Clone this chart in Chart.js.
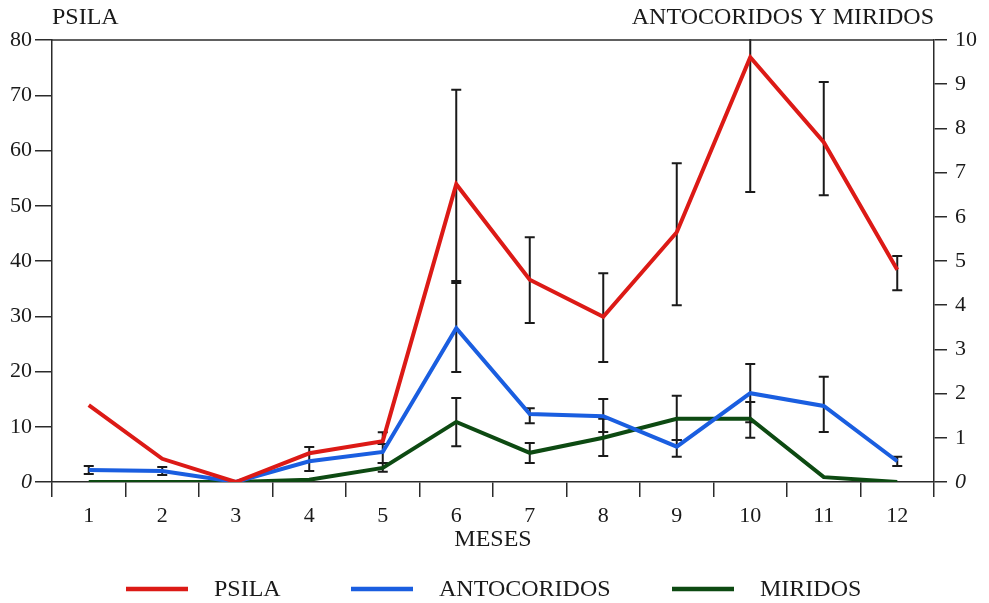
<!DOCTYPE html>
<html>
<head>
<meta charset="utf-8">
<script src="https://cdn.jsdelivr.net/npm/chart.js@4.4.0/dist/chart.umd.min.js"></script>
<style>
  html, body { margin: 0; padding: 0; background: #fff; }
  #wrap { width: 989px; height: 603px; }
</style>
</head>
<body>
<div id="wrap"><canvas id="chart" width="989" height="603"></canvas></div>
<script>
const meses = ['1', '2', '3', '4', '5', '6', '7', '8', '9', '10', '11', '12'];

// PSILA (eje izquierdo)
const psila      = [13.9, 4.2, 0, 5.2, 7.4, 53.9, 36.6, 29.9, 45.2, 76.9, 61.5, 38.4];
const psilaAlto  = [null, null, null, null, 9.0, 71.0, 44.3, 37.8, 57.7, 82, 72.4, 40.9];
const psilaBajo  = [null, null, null, null, 6.9, 36.4, 28.8, 21.7, 32.0, 52.5, 51.9, 34.7];

// ANTOCORIDOS (eje derecho)
const antocoridos = [0.27, 0.25, 0, 0.47, 0.68, 3.48, 1.54, 1.49, 0.8, 2.01, 1.72, 0.47];
const antoAlto    = [0.36, 0.34, null, 0.79, 0.86, 4.5, 1.67, 1.88, 0.95, 2.67, 2.38, 0.57];
const antoBajo    = [0.18, 0.16, null, 0.25, 0.43, 2.49, 1.33, 1.13, 0.57, 1.35, 1.13, 0.36];

// MIRIDOS (eje derecho)
const miridos    = [0, 0, 0, 0.05, 0.32, 1.36, 0.66, 1.0, 1.43, 1.43, 0.11, 0];
const miriAlto   = [null, null, null, null, 0.43, 1.9, 0.88, 1.43, 1.95, 1.81, null, null];
const miriBajo   = [null, null, null, null, 0.23, 0.81, 0.43, 0.59, 0.95, 1.0, null, null];

const ticksIzq = [0, 10, 20, 30, 40, 50, 60, 70, 80];
const ticksDer = [0, 1, 2, 3, 4, 5, 6, 7, 8, 9, 10];

const ROJO = '#dc1a16';
const AZUL = '#1a5ee0';
const VERDE = '#0d4a12';
const EJE = '#2b2b2b';
const FUENTE = '"Liberation Serif", "Times New Roman", serif';

const errores = [
    { axis: 'y',  alto: psilaAlto, bajo: psilaBajo },
    { axis: 'y1', alto: antoAlto,  bajo: antoBajo },
    { axis: 'y1', alto: miriAlto,  bajo: miriBajo }
];

const leyenda = [
    { text: 'PSILA', color: ROJO, x: 126 },
    { text: 'ANTOCORIDOS', color: AZUL, x: 351 },
    { text: 'MIRIDOS', color: VERDE, x: 672 }
];

const errorBars = {
    id: 'errorBars',
    beforeDatasetsDraw(chart) {
        const { ctx, chartArea, scales } = chart;
        ctx.save();
        ctx.beginPath();
        ctx.rect(chartArea.left, chartArea.top - 1, chartArea.right - chartArea.left, chartArea.bottom - chartArea.top + 2);
        ctx.clip();
        ctx.strokeStyle = '#1a1a1a';
        ctx.lineWidth = 2;
        errores.forEach(e => {
            const ys = scales[e.axis];
            meses.forEach((m, i) => {
                if (e.alto[i] == null) return;
                const x = scales.x.getPixelForValue(i);
                const yA = ys.getPixelForValue(e.alto[i]);
                const yB = ys.getPixelForValue(e.bajo[i]);
                ctx.beginPath();
                ctx.moveTo(x, yA); ctx.lineTo(x, yB);
                ctx.moveTo(x - 5, yA); ctx.lineTo(x + 5, yA);
                ctx.moveTo(x - 5, yB); ctx.lineTo(x + 5, yB);
                ctx.stroke();
            });
        });
        ctx.restore();
    },
    afterDraw(chart) {
        const { ctx, chartArea, scales } = chart;
        ctx.save();
        // línea superior del marco
        const yTop = scales.y.getPixelForValue(80);
        ctx.strokeStyle = EJE;
        ctx.lineWidth = 1.5;
        ctx.beginPath();
        ctx.moveTo(chartArea.left, yTop);
        ctx.lineTo(chartArea.right, yTop);
        ctx.stroke();

        // títulos de los ejes
        ctx.fillStyle = '#1a1a1a';
        ctx.font = '24px ' + FUENTE;
        ctx.textBaseline = 'middle';
        ctx.textAlign = 'left';
        ctx.fillText('PSILA', chartArea.left, 18);
        ctx.textAlign = 'right';
        ctx.fillText('ANTOCORIDOS Y MIRIDOS', chartArea.right, 18);

        // leyenda
        ctx.textAlign = 'left';
        leyenda.forEach(l => {
            ctx.strokeStyle = l.color;
            ctx.lineWidth = 4.5;
            ctx.beginPath();
            ctx.moveTo(l.x, 589);
            ctx.lineTo(l.x + 62, 589);
            ctx.stroke();
            ctx.fillText(l.text, l.x + 88, 590);
        });
        ctx.restore();
    }
};

function serie(label, data, color, axis) {
    return {
        label: label,
        data: data,
        yAxisID: axis,
        borderColor: color,
        backgroundColor: color,
        borderWidth: 4,
        pointRadius: 0,
        tension: 0,
        fill: false
    };
}

const tickFont = ctx => ({
    family: FUENTE,
    size: 22,
    style: (ctx.tick && ctx.tick.value === 0) ? 'italic' : 'normal'
});

new Chart(document.getElementById('chart').getContext('2d'), {
    type: 'line',
    data: {
        labels: meses,
        datasets: [
            serie('PSILA', psila, ROJO, 'y'),
            serie('ANTOCORIDOS', antocoridos, AZUL, 'y1'),
            serie('MIRIDOS', miridos, VERDE, 'y1')
        ]
    },
    options: {
        responsive: false,
        animation: false,
        events: [],
        layout: { padding: { top: 40, bottom: 45, left: 0, right: 0 } },
        plugins: { legend: { display: false }, title: { display: false }, tooltip: { enabled: false } },
        scales: {
            x: {
                type: 'category',
                offset: true,
                grid: { offset: true, drawOnChartArea: false, drawTicks: true, tickLength: 15, color: EJE, lineWidth: 1.5 },
                border: { display: true, color: EJE, width: 1.5 },
                ticks: { color: '#1a1a1a', font: { family: FUENTE, size: 22 }, padding: 6, maxRotation: 0, autoSkip: false },
                title: { display: true, text: 'MESES', color: '#1a1a1a', font: { family: FUENTE, size: 24 }, padding: { top: 0, bottom: 4 } },
                afterFit: axis => { axis.height = 76; }
            },
            y: {
                position: 'left',
                min: 0,
                max: 80,
                afterBuildTicks: axis => { axis.ticks = ticksIzq.map(v => ({ value: v })); },
                grid: { drawOnChartArea: false, drawTicks: true, tickLength: 17, color: EJE, lineWidth: 1.5 },
                border: { display: true, color: EJE, width: 1.5 },
                ticks: { color: '#1a1a1a', font: tickFont, padding: 3 },
                afterFit: axis => { axis.width = 52; }
            },
            y1: {
                position: 'right',
                min: 0,
                max: 10,
                afterBuildTicks: axis => { axis.ticks = ticksDer.map(v => ({ value: v })); },
                grid: { drawOnChartArea: false, drawTicks: true, tickLength: 13, color: EJE, lineWidth: 1.5 },
                border: { display: true, color: EJE, width: 1.5 },
                ticks: { color: '#1a1a1a', font: tickFont, padding: 8 },
                afterFit: axis => { axis.width = 55; }
            }
        }
    },
    plugins: [errorBars]
});
</script>
</body>
</html>
